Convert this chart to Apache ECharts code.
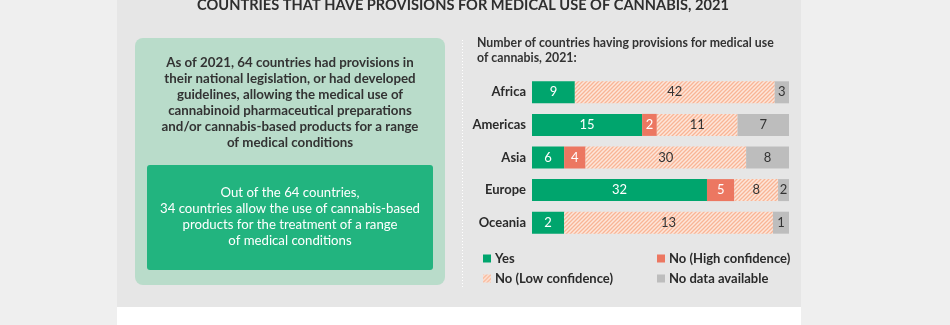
<!DOCTYPE html>
<html>
<head>
<meta charset="utf-8">
<script src="https://cdn.jsdelivr.net/npm/echarts@6/dist/echarts.min.js"></script>
<style>
  html, body { margin: 0; padding: 0; background: #efefef; }
  #chart { width: 950px; height: 325px; }
</style>
</head>
<body>
<div id="chart"></div>
<script>
// Regions and the number of countries in each provision status
const regions = ['Africa', 'Americas', 'Asia', 'Europe', 'Oceania'];
const yesCounts = [9, 15, 6, 32, 2];
const noHighCounts = [0, 2, 4, 5, 0];
const noLowCounts = [42, 11, 30, 8, 13];
const noDataCounts = [3, 7, 8, 2, 1];

const seriesNames = ['Yes', 'No (High confidence)', 'No (Low confidence)', 'No data available'];

const FONT = 'Lato, "Noto Sans", sans-serif';
const GREEN = '#00a56d';
const RED = '#ec7761';
const GREY = '#bdbdbd';

// Diagonal hatch used for the low-confidence segment
function hatchPattern() {
  const c = document.createElement('canvas');
  c.width = 4; c.height = 4;
  const g = c.getContext('2d');
  g.fillStyle = '#fde6da';
  g.fillRect(0, 0, 4, 4);
  g.strokeStyle = '#f8b596';
  g.lineWidth = 1.3;
  g.beginPath();
  g.moveTo(-1, 1); g.lineTo(1, -1);
  g.moveTo(0, 4); g.lineTo(4, 0);
  g.moveTo(3, 5); g.lineTo(5, 3);
  g.stroke();
  return { image: c, repeat: 'repeat' };
}

const totals = regions.map((_, i) => yesCounts[i] + noHighCounts[i] + noLowCounts[i] + noDataCounts[i]);
function shares(counts) {
  return counts.map((n, i) => ({ value: n / totals[i] * 100, count: n }));
}

function barSeries(name, counts, color, labelColor) {
  return {
    name: name,
    type: 'bar',
    stack: 'all',
    barWidth: 22,
    data: shares(counts),
    itemStyle: { color: color },
    emphasis: { disabled: true },
    label: {
      show: true,
      position: 'inside',
      color: labelColor,
      fontFamily: FONT,
      fontSize: 13,
      formatter: p => (p.data.count ? String(p.data.count) : '')
    }
  };
}

const hatch = hatchPattern();

function legendItem(name, left, top) {
  return {
    data: [name],
    left: left, top: top,
    orient: 'horizontal',
    icon: 'rect',
    itemWidth: 8, itemHeight: 8,
    itemGap: 0,
    selectedMode: false,
    textStyle: { fontFamily: FONT, fontSize: 13, fontWeight: 'bold', color: '#2b2b2b', padding: [0, 0, 0, -1] }
  };
}

const introLines = [
  'As of 2021, 64 countries had provisions in',
  'their national legislation, or had developed',
  'guidelines, allowing the medical use of',
  'cannabinoid pharmaceutical preparations',
  'and/or cannabis-based products for a range',
  'of medical conditions'
];
const highlightLines = [
  'Out of the 64 countries,',
  '34 countries allow the use of cannabis-based',
  'products for the treatment of a range',
  'of medical conditions'
];

const chart = echarts.init(document.getElementById('chart'));
chart.setOption({
  backgroundColor: '#efefef',
  animation: false,
  graphic: [
    { type: 'rect', z: -10, shape: { x: 117, y: 0, width: 684, height: 307 }, style: { fill: '#e6e6e6' } },
    { type: 'rect', z: -10, shape: { x: 117, y: 307, width: 684, height: 18 }, style: { fill: '#ffffff' } },
    { type: 'text', z: 1, x: 463, y: 5, style: {
        text: 'COUNTRIES THAT HAVE PROVISIONS FOR MEDICAL USE OF CANNABIS, 2021',
        font: 'bold 14.6px ' + FONT, fill: '#2e2e2e', align: 'center', verticalAlign: 'middle' } },
    { type: 'rect', z: -5, shape: { x: 135, y: 38, width: 310, height: 247, r: 8 }, style: { fill: '#b9dcca' } },
    { type: 'rect', z: -4, shape: { x: 147, y: 165, width: 286, height: 105, r: 3 }, style: { fill: '#22b47f' } },
    { type: 'text', z: 1, x: 290, y: 55, style: {
        text: introLines.join('\n'), lineHeight: 16,
        font: 'bold 13.3px ' + FONT, fill: '#333333', align: 'center', verticalAlign: 'top' } },
    { type: 'text', z: 1, x: 290, y: 185, style: {
        text: highlightLines.join('\n'), lineHeight: 16,
        font: '13.2px ' + FONT, fill: '#ffffff', align: 'center', verticalAlign: 'top' } },
    { type: 'line', z: 1, shape: { x1: 462.5, y1: 40, x2: 462.5, y2: 288 },
      style: { stroke: '#ffffff', lineWidth: 1, lineDash: [1, 2] } },
    { type: 'text', z: 1, x: 477, y: 35.5, style: {
        text: 'Number of countries having provisions for medical use\nof cannabis, 2021:', lineHeight: 15,
        font: 'bold 12.3px ' + FONT, fill: '#333333', align: 'left', verticalAlign: 'top' } }
  ],
  grid: { left: 532, right: 161, top: 76, height: 163, containLabel: false },
  xAxis: { type: 'value', min: 0, max: 100, show: false },
  yAxis: {
    type: 'category',
    data: regions,
    inverse: true,
    axisLine: { show: false },
    axisTick: { show: false },
    splitLine: { show: false },
    axisLabel: { margin: 6, fontFamily: FONT, fontSize: 13, fontWeight: 'bold', color: '#2b2b2b' }
  },
  legend: [
    legendItem(seriesNames[0], 478, 247),
    legendItem(seriesNames[1], 652, 247),
    legendItem(seriesNames[2], 478, 267),
    legendItem(seriesNames[3], 652, 267)
  ],
  series: [
    barSeries(seriesNames[0], yesCounts, GREEN, '#ffffff'),
    barSeries(seriesNames[1], noHighCounts, RED, '#ffffff'),
    barSeries(seriesNames[2], noLowCounts, hatch, '#333333'),
    barSeries(seriesNames[3], noDataCounts, GREY, '#333333')
  ]
});
</script>
</body>
</html>
